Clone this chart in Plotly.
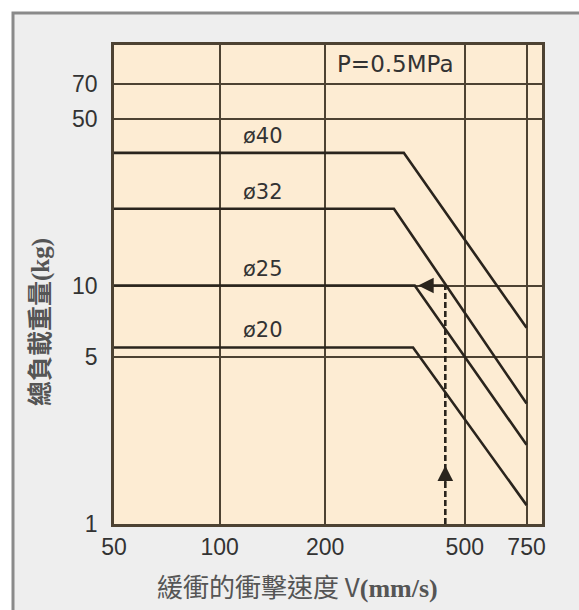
import math
import plotly.graph_objects as go

# ---- data ----
series_names = ["ø40", "ø32", "ø25", "ø20"]
series_speed = [
    [50, 335, 750],
    [50, 314, 750],
    [50, 360, 750],
    [50, 356, 750],
]
series_load = [
    [36, 36, 6.65],
    [21, 21, 3.2],
    [10, 10, 2.15],
    [5.5, 5.5, 1.2],
]
label_speed = 133
example_speed = [440, 440]
example_load = [1, 10]
x_ticks = [50, 100, 200, 500, 750]
y_ticks = [1, 5, 10, 50, 70]
pressure_text = "P=0.5MPa"

W, H = 579, 610
L, R, T, B = 114, 37, 45, 86
pw, ph = W - L - R, H - T - B

grid_col = "#4d4232"
line_col = "#2a241d"
txt_col = "#333333"
font_num = "Liberation Sans, Arial, sans-serif"
font_lbl = "DejaVu Sans, sans-serif"
font_cjk = "Noto Sans CJK TC, Noto Sans CJK SC, sans-serif"

fig = go.Figure()

for name, xs, ys in zip(series_names, series_speed, series_load):
    fig.add_trace(go.Scatter(x=xs, y=ys, mode="lines", name=name,
                             line=dict(color=line_col, width=2.6),
                             showlegend=False, hoverinfo="skip"))
    fig.add_annotation(x=math.log10(label_speed), y=math.log10(ys[0]),
                       xref="x", yref="y", text=name, showarrow=False,
                       xanchor="center", yanchor="middle",
                       yshift=17, font=dict(family=font_lbl, size=21, color=txt_col))

# example dashed path
fig.add_trace(go.Scatter(x=example_speed, y=example_load, mode="lines",
                         line=dict(color=line_col, width=2.6, dash="6px,3px"),
                         showlegend=False, hoverinfo="skip"))
# up arrow head
fig.add_annotation(x=math.log10(example_speed[0]), y=math.log10(1.76),
                   ax=math.log10(example_speed[0]), ay=math.log10(1.47),
                   xref="x", yref="y", axref="x", ayref="y", text="",
                   showarrow=True, arrowhead=2, arrowsize=1.3, arrowwidth=2.4,
                   arrowcolor=line_col)
# left arrow
fig.add_annotation(x=math.log10(368), y=math.log10(example_load[1]),
                   ax=math.log10(example_speed[0]), ay=math.log10(example_load[1]),
                   xref="x", yref="y", axref="x", ayref="y", text="",
                   showarrow=True, arrowhead=2, arrowsize=1.3, arrowwidth=2.4,
                   arrowcolor=line_col)

# pressure label
fig.add_annotation(x=(395 - L) / pw, y=(H - B - 64) / ph, xref="paper", yref="paper",
                   text=pressure_text, showarrow=False, xanchor="center", yanchor="middle",
                   font=dict(family=font_lbl, size=23, color=txt_col))

# axis titles
fig.add_annotation(x=(38 - L) / pw, y=(H - B - 322) / ph, xref="paper", yref="paper",
                   text="<b>總負載重量<span style='font-family:Liberation Serif, serif'>(kg)</span></b>",
                   textangle=-90, showarrow=False, xanchor="center", yanchor="middle",
                   font=dict(family=font_cjk, size=25, color="#555555"))
fig.add_annotation(x=(297 - L) / pw, y=(H - B - 585) / ph, xref="paper", yref="paper",
                   text="緩衝的衝擊速度 V<span style='font-family:Liberation Serif, serif'><b>(mm/s)</b></span>",
                   showarrow=False, xanchor="center", yanchor="middle",
                   font=dict(family=font_cjk, size=26, color="#555555"))

# frame and plot background
fig.add_shape(type="rect", xref="paper", yref="paper",
              x0=(13 - L) / pw, x1=(600 - L) / pw,
              y0=(H - B - 630) / ph, y1=(H - B - 13) / ph,
              fillcolor="#eeeeee", line=dict(color="#8a8a8a", width=3), layer="below")
fig.add_shape(type="rect", xref="x domain", yref="y domain", x0=0, x1=1, y0=0, y1=1,
              fillcolor="#fdecd3", line=dict(width=0), layer="below")

fig.update_xaxes(type="log", range=[math.log10(50), math.log10(830)],
                 tickvals=x_ticks, ticktext=[str(v) for v in x_ticks],
                 showgrid=True, gridcolor=grid_col, gridwidth=2,
                 showline=True, linecolor=grid_col, linewidth=2.5, mirror=True,
                 zeroline=False, ticks="", ticklabelstandoff=1,
                 tickfont=dict(family=font_num, size=23, color=txt_col))
fig.update_yaxes(type="log", range=[0, math.log10(102)],
                 tickvals=y_ticks, ticktext=[str(v) for v in y_ticks],
                 showgrid=True, gridcolor=grid_col, gridwidth=2,
                 showline=True, linecolor=grid_col, linewidth=2.5, mirror=True,
                 zeroline=False, ticks="", ticklabelstandoff=9,
                 tickfont=dict(family=font_num, size=23, color=txt_col))

fig.update_layout(width=W, height=H, margin=dict(l=L, r=R, t=T, b=B),
                  paper_bgcolor="white", plot_bgcolor="rgba(0,0,0,0)",
                  showlegend=False)

fig.write_html("out.html")
